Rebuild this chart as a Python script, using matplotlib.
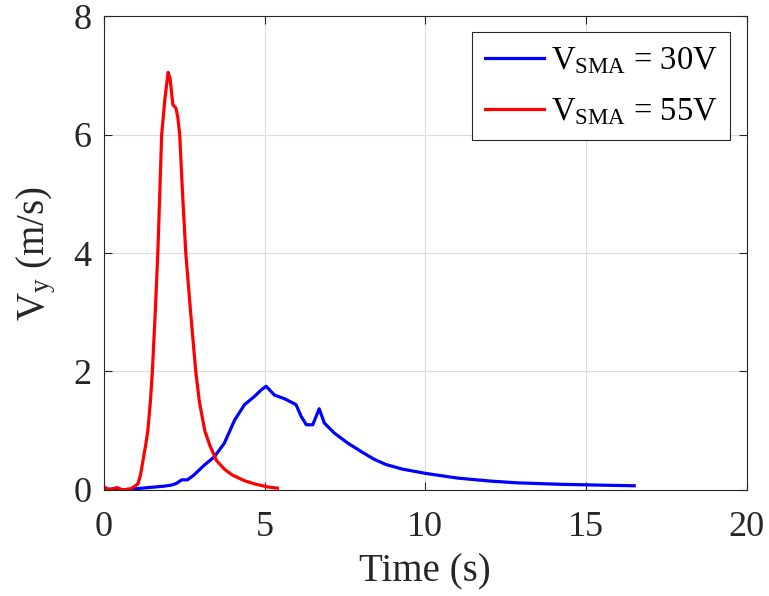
import matplotlib
matplotlib.use("Agg")
import matplotlib.pyplot as plt
import numpy as np

plt.rcParams['font.family'] = ['Liberation Serif', 'DejaVu Serif']
plt.rcParams['mathtext.fontset'] = 'custom'
plt.rcParams['mathtext.rm'] = 'Liberation Serif'
plt.rcParams['mathtext.it'] = 'Liberation Serif:italic'

# V_SMA = 30V (blue)
t30 = [0.0, 0.3, 0.6, 1.0, 1.4, 1.82, 2.1, 2.26, 2.42, 2.6, 2.8, 3.13, 3.44,
       3.75, 4.07, 4.38, 4.69, 4.9, 5.05, 5.31, 5.62, 5.98, 6.14, 6.3, 6.5,
       6.7, 6.86, 7.17, 7.59, 8.0, 8.4, 8.77, 9.3, 10.0, 11.0, 12.0, 12.84,
       14.17, 15.5, 16.5]
v30 = [0.0, 0.02, 0.0, 0.02, 0.04, 0.06, 0.08, 0.11, 0.17, 0.17, 0.25, 0.42,
       0.56, 0.79, 1.18, 1.44, 1.58, 1.69, 1.75, 1.6, 1.54, 1.44, 1.24, 1.1,
       1.1, 1.37, 1.13, 0.96, 0.79, 0.65, 0.52, 0.43, 0.35, 0.28, 0.2, 0.15,
       0.12, 0.095, 0.08, 0.07]

# V_SMA = 55V (red)
t55 = [0.0, 0.2, 0.4, 0.6, 0.85, 1.06, 1.14, 1.22, 1.3, 1.37, 1.45, 1.51,
       1.6, 1.68, 1.74, 1.8, 1.9, 2.0, 2.06, 2.15, 2.24, 2.3, 2.36, 2.45,
       2.55, 2.7, 2.86, 2.97, 3.14, 3.3, 3.5, 3.75, 4.0, 4.4, 4.7, 5.1, 5.4]
v55 = [0.05, 0.0, 0.04, 0.0, 0.02, 0.1, 0.25, 0.5, 0.75, 1.0, 1.5, 2.0,
       3.0, 4.0, 5.0, 6.0, 6.6, 7.05, 6.95, 6.5, 6.45, 6.3, 6.0, 5.0,
       4.0, 3.0, 2.0, 1.5, 1.0, 0.75, 0.5, 0.35, 0.25, 0.15, 0.1, 0.05, 0.03]

fig = plt.figure(figsize=(7.69, 5.96), dpi=100)
ax = fig.add_axes([0.135, 0.178, 0.836, 0.795])

ax.plot(t30, v30, color='#0000ff', linewidth=2.3, label=r'V$_{\rm SMA}$ = 30V')
ax.plot(t55, v55, color='#ff0000', linewidth=2.3, label=r'V$_{\rm SMA}$ = 55V')

ax.set_xlim(0, 20)
ax.set_ylim(0, 8)
ax.set_xticks([0, 5, 10, 15, 20])
ax.set_yticks([0, 2, 4, 6, 8])
ax.grid(True, color='#dcdcdc', linewidth=0.8)
ax.tick_params(direction='in', top=True, right=True, labelsize=26, length=6,
               color='#262626', labelcolor='#262626')
ax.tick_params(axis='x', pad=15)
ax.tick_params(axis='y', pad=9)
for s in ax.spines.values():
    s.set_color('#262626')
ax.set_xlabel('Time (s)', fontsize=28, color='#262626', labelpad=7)
ax.set_ylabel(r'V$_{\rm y}$ (m/s)', fontsize=28, color='#262626', labelpad=11)

leg = ax.legend(loc='upper right', fontsize=23.5, fancybox=False, framealpha=1,
                edgecolor='#262626', handlelength=1.8, handletextpad=0.2,
                borderpad=0.4, labelspacing=0.62, borderaxespad=0.5)
leg.get_frame().set_linewidth(0.8)

fig.savefig('out.png', dpi=100)
